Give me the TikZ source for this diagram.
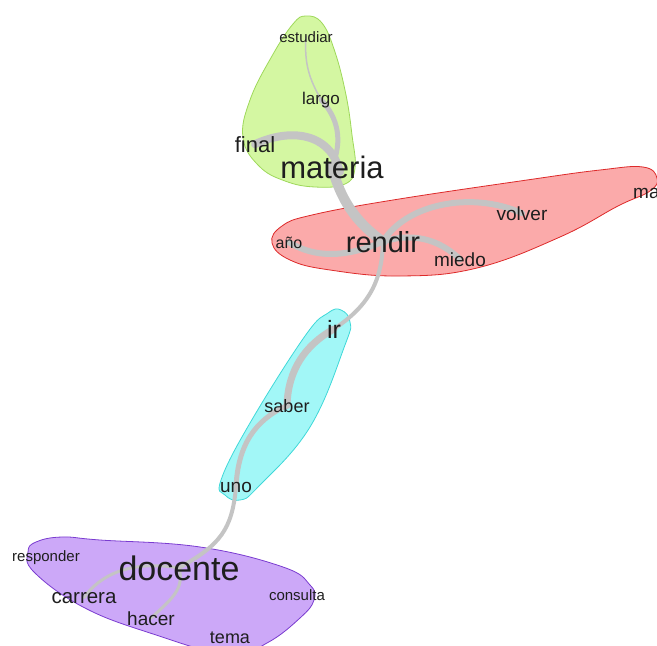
\documentclass[tikz,border=0pt]{standalone}
\usepackage{fontspec}
\setmainfont{Liberation Sans}
\pgfdeclarelayer{blobs}
\pgfdeclarelayer{edges}
\pgfsetlayers{blobs,edges,main}
\definecolor{gfill}{HTML}{D4F7A2}
\definecolor{gline}{HTML}{9ED85A}
\definecolor{rfill}{HTML}{FBAAAA}
\definecolor{rline}{HTML}{DD2A2A}
\definecolor{cfill}{HTML}{A2F7F7}
\definecolor{cline}{HTML}{3FD8D8}
\definecolor{pfill}{HTML}{CCA8F8}
\definecolor{pline}{HTML}{7A3CD0}
\definecolor{edgegray}{HTML}{C4C4C4}
\definecolor{wordcol}{HTML}{1E1E1E}
\tikzset{
  word/.style={anchor=base, inner sep=0pt, text=wordcol},
  fs/.style={font=\fontsize{#1}{#1}\selectfont},
  link/.style={draw=edgegray, line cap=round},
  blob/.style={line width=0.8pt, smooth cycle, tension=0.7},
}
\begin{document}
\begin{tikzpicture}[x=1pt,y=-1pt]
\useasboundingbox (0,0) rectangle (657,646);
\clip (0,0) rectangle (657,646);

% words of the co-occurrence graph
\node[word,fs=15] (estudiar) at (306,42) {estudiar};
\node[word,fs=17] (largo) at (321,104) {largo};
\node[word,fs=22] (final) at (255,152) {final};
\node[word,fs=31] (materia) at (332,178) {materia};
\node[word,fs=29] (rendir) at (383,252) {rendir};
\node[word,fs=16] (anio) at (289,248) {año};
\node[word,fs=19] (volver) at (522,220) {volver};
\node[word,fs=19] (miedo) at (460,266) {miedo};
\node[word,fs=19,anchor=base west] (ma) at (633,198) {ma};
\node[word,fs=25] (ir) at (334,338) {ir};
\node[word,fs=18] (saber) at (287,412) {saber};
\node[word,fs=19] (uno) at (236,492) {uno};
\node[word,fs=34] (docente) at (179,580) {docente};
\node[word,fs=15] (responder) at (46,561) {responder};
\node[word,fs=20.5] (carrera) at (84,603) {carrera};
\node[word,fs=19] (hacer) at (151,625) {hacer};
\node[word,fs=15] (consulta) at (297,600) {consulta};
\node[word,fs=18] (tema) at (230,643) {tema};

% links between words
\begin{pgfonlayer}{edges}
\clip (0,0) rectangle (657,646);
\draw[link,line width=1.5pt] (estudiar.center) .. controls (304,65) and (310,80) .. (largo.center);
\draw[link,line width=5pt] (largo.center) .. controls (338,118) and (343,140) .. (materia.center);
\draw[link,line width=8pt] (final.center) .. controls (290,128) and (330,132) .. (340,172);
\draw[link,line width=10pt] (materia.center) .. controls (342,205) and (360,225) .. (rendir.center);
\draw[link,line width=6pt] (anio.center) .. controls (315,258) and (345,258) .. (rendir.center);
\draw[link,line width=6pt] (rendir.center) .. controls (405,205) and (470,190) .. (volver.center);
\draw[link,line width=6pt] (rendir.center) .. controls (420,230) and (445,245) .. (miedo.center);
\draw[link,line width=4pt] (rendir.center) .. controls (382,280) and (370,305) .. (ir.center);
\draw[link,line width=7pt] (ir.center) .. controls (305,345) and (288,370) .. (saber.center);
\draw[link,line width=5pt] (saber.center) .. controls (255,420) and (238,445) .. (uno.center);
\draw[link,line width=4pt] (uno.center) .. controls (232,530) and (220,545) .. (docente.center);
\draw[link,line width=3pt] (carrera.center) .. controls (100,575) and (130,560) .. (docente.center);
\draw[link,line width=3pt] (docente.center) .. controls (185,590) and (170,600) .. (hacer.center);
\end{pgfonlayer}

% community hulls
\begin{pgfonlayer}{blobs}
\clip (0,0) rectangle (657,646);
\draw[blob,fill=gfill,draw=gline] plot coordinates {
  (306,16) (322,23) (335,52) (346,95) (352,135) (355,168) (345,184)
  (315,187) (285,181) (259,166) (243,138) (250,100) (272,56) (293,24)};
\draw[blob,fill=rfill,draw=rline] plot coordinates {
  (272,243) (282,226) (312,215) (393,200) (527,180) (600,170) (643,167)
  (657,178) (650,191) (618,206) (560,237) (477,268) (400,276) (330,270) (290,260)};
\draw[blob,fill=cfill,draw=cline] plot coordinates {
  (328,313) (341,310) (350,322) (345,345) (310,427) (258,487) (240,500)
  (225,495) (221,480) (250,423) (305,336)};
\draw[blob,fill=pfill,draw=pline] plot coordinates {
  (36,542) (62,537) (100,540) (200,547) (283,567) (310,585) (314,600)
  (300,618) (267,643) (230,655) (150,633) (83,607) (34,572) (28,552)};
\end{pgfonlayer}
\end{tikzpicture}
\end{document}
